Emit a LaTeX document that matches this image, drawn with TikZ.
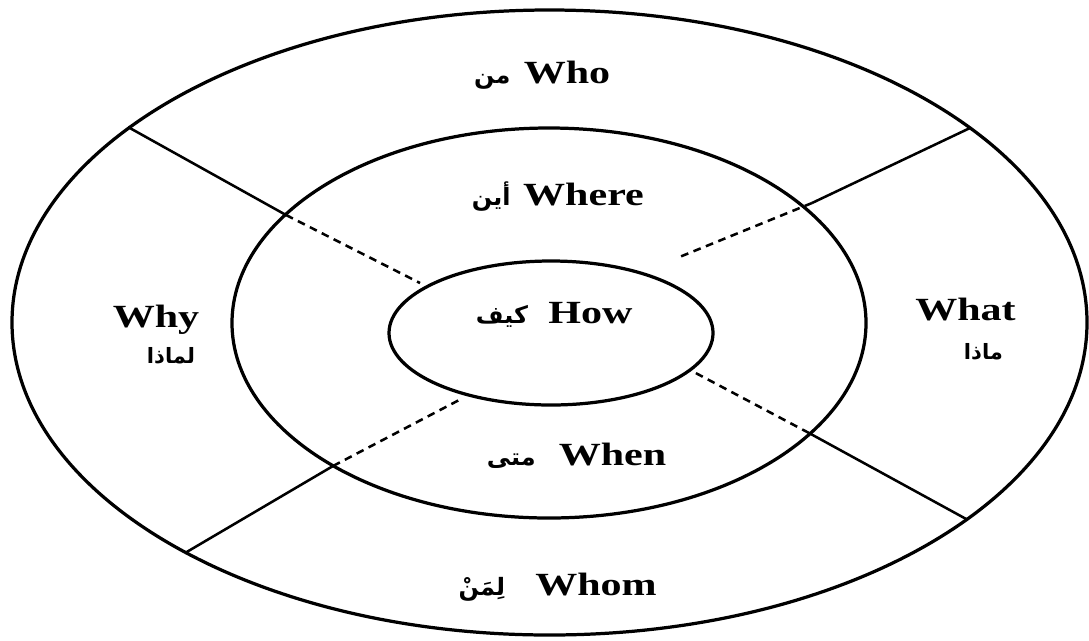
\documentclass[tikz,border=0pt]{standalone}
\usepackage{fontspec}
\setmainfont{Liberation Serif}
\newfontfamily\arabicfont[Script=Arabic]{DejaVu Sans}
\TeXXeTstate=1
\usetikzlibrary{positioning}

\begin{document}
\begin{tikzpicture}[x=0.025cm, y=-0.025cm,
  ring/.style={line width=2.3pt},
  wall/.style={line width=1.8pt},
  gap/.style={line width=1.8pt, dash pattern=on 5.5pt off 4pt},
  word/.style={font=\bfseries\fontsize{23}{28}\selectfont, xscale=1.3, inner sep=0pt, anchor=base},
  arab/.style={font=\arabicfont\bfseries\fontsize{17}{20}\selectfont, inner sep=0pt},
  arabsmall/.style={font=\arabicfont\bfseries\fontsize{15}{18}\selectfont, inner sep=0pt}]
  \useasboundingbox (0,0) rectangle (1089,640);
  % rings
  \draw[ring] (549.5,322.5) ellipse [x radius=537.5, y radius=312.5];
  \draw[ring] (549,323) ellipse [x radius=317, y radius=195];
  \draw[ring] (551,333) ellipse [x radius=162, y radius=72];
  % split points
  \coordinate (oUL) at (128,127);
  \coordinate (oUR) at (970,128);
  \coordinate (oLR) at (968,520);
  \coordinate (oLL) at (185,553);
  \coordinate (mUL) at (286,215);
  \coordinate (mUR) at (812,203);
  \coordinate (mLR) at (809,433);
  \coordinate (mLL) at (333,466);
  \coordinate (iUL) at (420,283);
  \coordinate (iUR) at (677,258);
  \coordinate (iLR) at (690,370);
  \coordinate (iLL) at (463,398);
  \foreach \c in {UL,UR,LR,LL} {
    \draw[wall] (o\c) -- (m\c);
    \draw[gap] (m\c) -- (i\c);
  }
  % labels
  \node[word] (who) at (567,83) {Who};
  \node[arab, base left=9pt of who] (whoAr) {\beginR من\endR};
  \node[word] (where) at (583.5,205) {Where};
  \node[arab, base left=8.5pt of where] (whereAr) {\beginR أين\endR};
  \node[word] (how) at (590.5,323) {How};
  \node[arab, base left=14pt of how] (howAr) {\beginR كيف\endR};
  \node[word] (when) at (612.5,465) {When};
  \node[arab, base left=16pt of when] (whenAr) {\beginR متى\endR};
  \node[word] (whom) at (596,595) {Whom};
  \node[arab, base left=21pt of whom] (whomAr) {\beginR لِمَنْ\endR};
  \node[word] (why) at (156,327) {Why};
  \node[arabsmall] (whyAr) at (171,356) {\beginR لماذا\endR};
  \node[word] (what) at (965.5,320) {What};
  \node[arabsmall] (whatAr) at (983.5,352) {\beginR ماذا\endR};
\end{tikzpicture}
\end{document}
